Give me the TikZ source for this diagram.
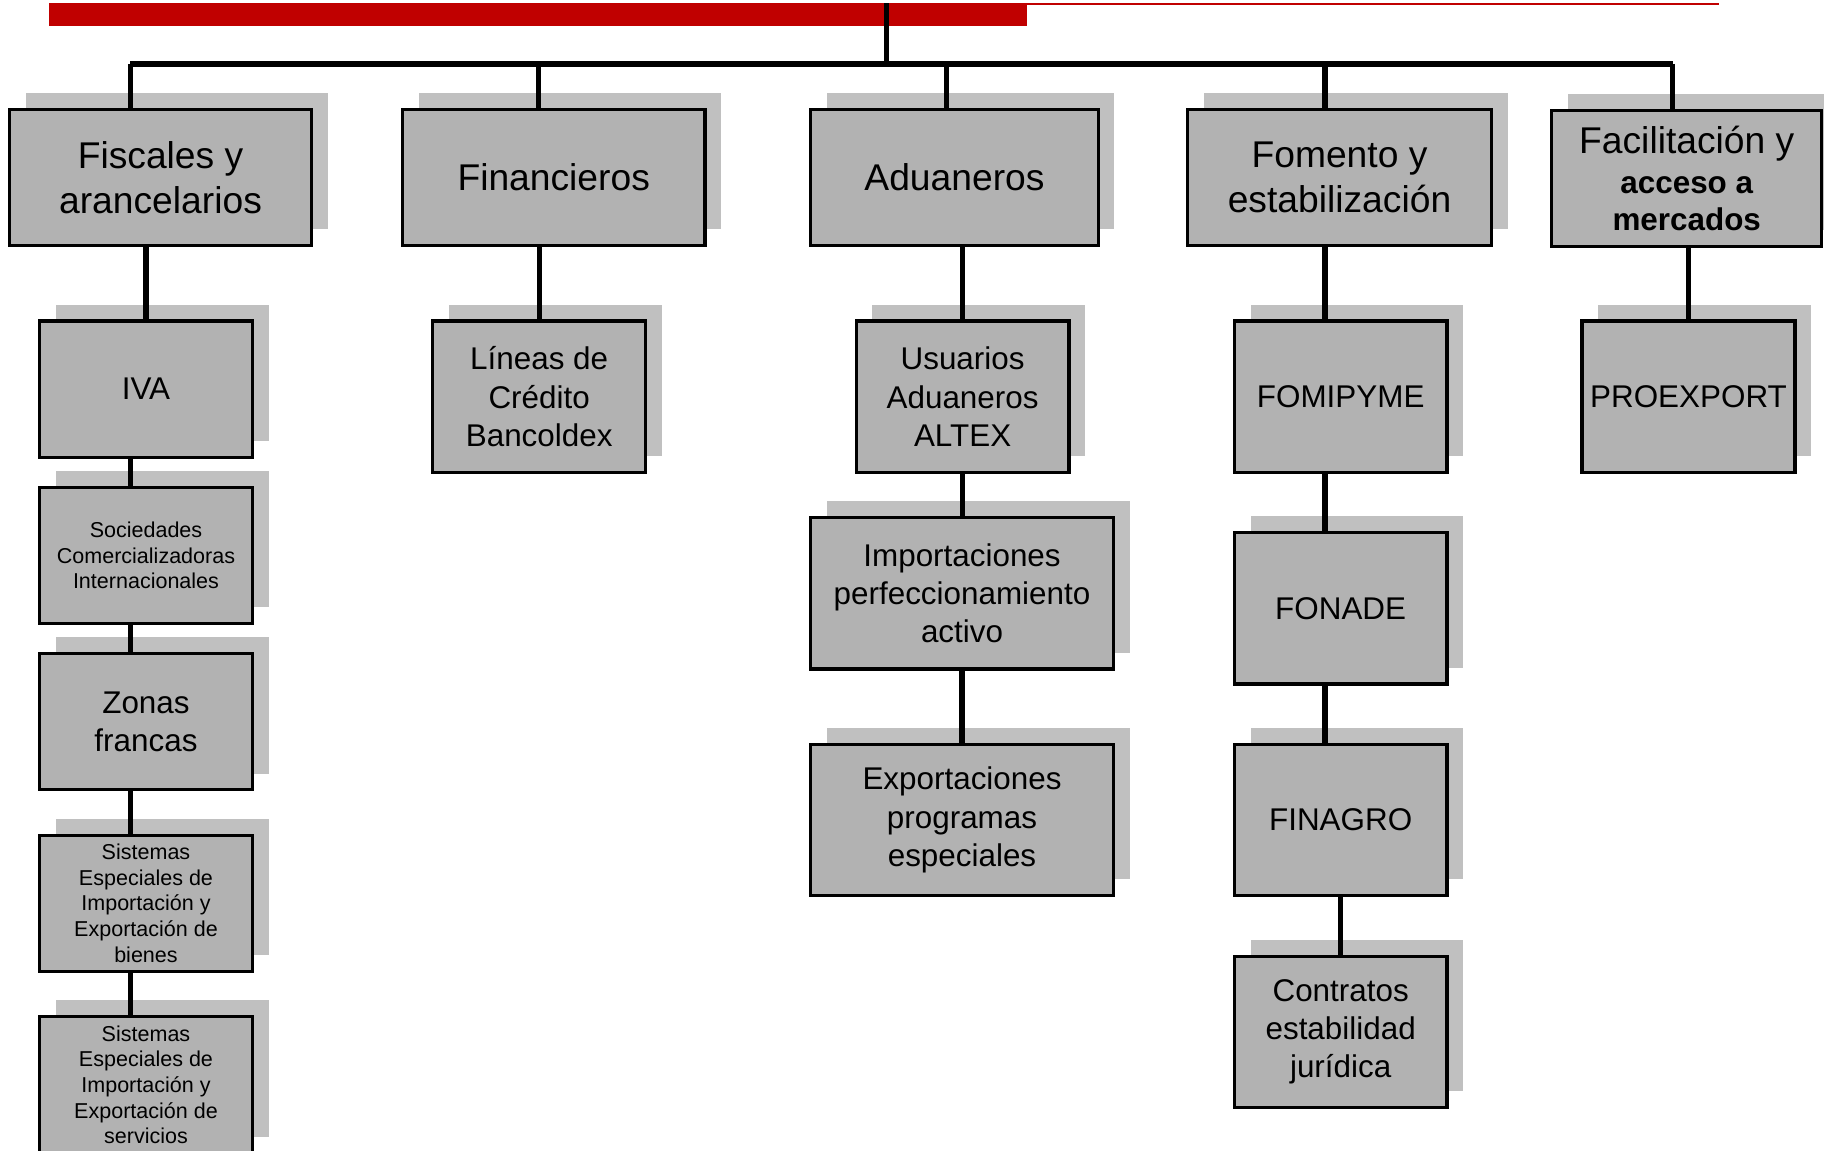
\documentclass[tikz,border=0pt]{standalone}
\usepackage{fontspec}
\setmainfont{Liberation Sans}
\usepackage{tikz}
\usetikzlibrary{shadows}
\definecolor{boxgray}{RGB}{178,178,178}
\definecolor{shadegray}{RGB}{192,192,192}
\definecolor{barred}{RGB}{192,0,0}

\begin{document}
\begin{tikzpicture}[x=0.5pt,y=0.5pt]
    \tikzstyle{every node}+=[inner sep=0pt]
    \tikzstyle{box}=[rectangle, draw=black, line width=1.4pt, fill=boxgray, text=black, align=center, drop shadow={shadow xshift=7pt, shadow yshift=7pt, fill=shadegray, opacity=1}]
    \tikzstyle{topbox}=[box, minimum height=58.5pt, font=\fontsize{16}{19.5}\selectfont]
    \tikzstyle{subbox}=[box, minimum width=91.5pt, minimum height=65pt, font=\fontsize{13.5}{16.5}\selectfont]
    \tikzstyle{smallbox}=[subbox, minimum height=58.5pt, font=\fontsize{9.25}{11}\selectfont]
    \tikzstyle{link}=[black, line width=2.2pt]
    \useasboundingbox (0,0) rectangle (1568,-989);
    \fill [barred] (42,-3) rectangle (883,-22);
    \draw [barred, line width=1pt] (883,-3.5) -- (1478,-3.5);
    \coordinate (top) at (762,-3);
    \coordinate (drop1) at (112,-55);
    \coordinate (drop2) at (463,-55);
    \coordinate (drop3) at (814,-55);
    \coordinate (drop4) at (1139,-55);
    \coordinate (drop5) at (1438,-55);
    \node [topbox, minimum width=130pt] (fis) at (138,-152.5) {Fiscales y\\arancelarios};
    \node [topbox, minimum width=130pt] (fin) at (476,-152.5) {Financieros};
    \node [topbox, minimum width=123.5pt] (adu) at (820.5,-152.5) {Aduaneros};
    \node [topbox, minimum width=130.5pt] (fom) at (1151.5,-152.5) {Fomento y\\estabilización};
    \node [topbox, minimum width=116pt] (fac) at (1450,-153.5) {Facilitación y\\[-2.5pt]\bfseries\fontsize{13.5}{16}\selectfont acceso a\\[-3.5pt]\bfseries\fontsize{13.5}{16}\selectfont mercados};
    \node [subbox, minimum height=58.5pt] (iva) at (125.5,-334.5) {IVA};
    \node [smallbox] (soc) at (125.5,-477.5) {Sociedades\\Comercializadoras\\Internacionales};
    \node [subbox, minimum height=58.5pt] (zon) at (125.5,-620.5) {Zonas\\francas};
    \node [smallbox] (sisb) at (125.5,-776.5) {Sistemas\\Especiales de\\Importación y\\Exportación de\\bienes};
    \node [smallbox] (siss) at (125.5,-932.5) {Sistemas\\Especiales de\\Importación y\\Exportación de\\servicios};
    \node [subbox] (lin) at (463.5,-341) {Líneas de\\Crédito\\Bancoldex};
    \node [subbox] (usu) at (827.5,-341) {Usuarios\\Aduaneros\\ALTEX};
    \node [subbox, minimum width=130pt] (imp) at (827,-510) {Importaciones\\perfeccionamiento\\activo};
    \node [subbox, minimum width=130pt] (exp) at (827,-705) {Exportaciones\\programas\\especiales};
    \node [subbox] (fomi) at (1152.5,-341) {FOMIPYME};
    \node [subbox] (fona) at (1152.5,-523) {FONADE};
    \node [subbox] (fina) at (1152.5,-705) {FINAGRO};
    \node [subbox] (cont) at (1152.5,-887) {Contratos\\estabilidad\\jurídica};
    \node [subbox] (prox) at (1451.5,-341) {PROEXPORT};
    \draw [link] (top) -- (top |- drop1);
    \draw [black, line width=2.6pt] (drop1) -- (drop5);
    \draw [link] (drop1) -- (drop1 |- fis.north);
    \draw [link] (drop2) -- (drop2 |- fin.north);
    \draw [link] (drop3) -- (drop3 |- adu.north);
    \draw [link] (drop4) -- (drop4 |- fom.north);
    \draw [link] (drop5) -- (drop5 |- fac.north);
    \draw [link] (iva.north) -- (iva.north |- fis.south);
    \draw [link] (drop1 |- iva.south) -- (drop1 |- soc.north);
    \draw [link] (drop1 |- soc.south) -- (drop1 |- zon.north);
    \draw [link] (drop1 |- zon.south) -- (drop1 |- sisb.north);
    \draw [link] (drop1 |- sisb.south) -- (drop1 |- siss.north);
    \draw [link] (lin.north) -- (lin.north |- fin.south);
    \draw [link] (usu.north) -- (usu.north |- adu.south);
    \draw [link] (usu.south) -- (usu.south |- imp.north);
    \draw [link] (exp.north) -- (exp.north |- imp.south);
    \draw [link] (drop4 |- fom.south) -- (drop4 |- fomi.north);
    \draw [link] (drop4 |- fomi.south) -- (drop4 |- fona.north);
    \draw [link] (drop4 |- fona.south) -- (drop4 |- fina.north);
    \draw [link] (cont.north) -- (cont.north |- fina.south);
    \draw [link] (prox.north) -- (prox.north |- fac.south);
\end{tikzpicture}
\end{document}
